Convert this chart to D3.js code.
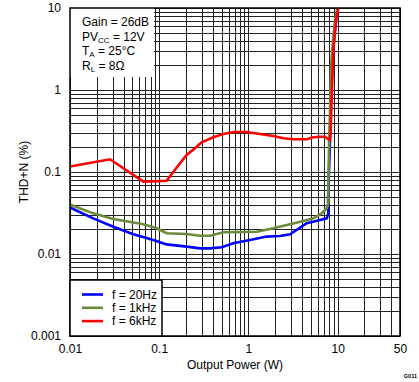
<!DOCTYPE html>
<html><head><meta charset="utf-8">
<script src="https://cdn.jsdelivr.net/npm/d3@7"></script>
<style>
body{margin:0;background:#fff;}
svg text{font-family:"Liberation Sans",Arial,sans-serif;fill:#000;}
</style></head>
<body><svg id="c" width="419" height="382"></svg>
<script>
// ---- data ----
const xTickValues = [0.01, 0.1, 1, 10, 50];
const xTickLabels = ["0.01", "0.1", "1", "10", "50"];
const yTickValues = [0.001, 0.01, 0.1, 1, 10];
const yTickLabels = ["0.001", "0.01", "0.1", "1", "10"];
const seriesNames = ["f = 20Hz", "f = 1kHz", "f = 6kHz"];
const seriesColors = ["#0000FF", "#6B8A3A", "#FF0000"];
// output power (W)
const p20Hz = [0.01,0.0182,0.0306,0.0513,0.0859,0.121,0.203,0.287,0.371,0.502,0.677,1.04,1.60,2.26,2.93,4.50,5.73,7.55,7.87,7.8,8.15,8.43,8.88,9.60,10.1];
const thd20Hz = [0.0369,0.0272,0.0215,0.0174,0.0148,0.0131,0.0123,0.0117,0.0117,0.0121,0.0135,0.0148,0.0163,0.0166,0.0174,0.0237,0.0252,0.0272,0.0313,0.0456,0.185,0.755,3.07,7.14,10];
const p1kHz = [0.01,0.0182,0.0306,0.0664,0.0938,0.121,0.203,0.287,0.371,0.523,1.24,1.90,2.93,4.13,5.34,6.63,7.55,7.87,7.87,8.01,8.22,8.43,8.81,9.35,9.93];
const thd1kHz = [0.0402,0.0313,0.0267,0.0230,0.0206,0.0179,0.0175,0.0167,0.0167,0.0184,0.0187,0.0206,0.0230,0.0252,0.0272,0.0313,0.0361,0.0415,0.0662,0.224,0.570,1.93,3.71,7.14,10];
const p6kHz = [0.01,0.0281,0.0664,0.121,0.171,0.203,0.252,0.299,0.404,0.523,0.677,0.957,1.349,1.90,2.46,3.19,4.50,5.34,6.35,7.22,7.87,8.22,8.36,8.55,8.95,9.60,10.19];
const thd6kHz = [0.117,0.143,0.0762,0.0783,0.128,0.161,0.195,0.230,0.265,0.290,0.308,0.308,0.290,0.275,0.258,0.251,0.251,0.265,0.269,0.269,0.251,0.245,0.325,0.755,3.07,7.14,10];
const annoLines = [["Gain = 26dB",""],["PV","CC"," = 12V"],["T","A"," = 25°C"],["R","L"," = 8Ω"]];

// ---- layout ----
const L=70, R=400, T=8, B=336;
const svg = d3.select("#c");
const x = d3.scaleLog().domain([0.01,50]).range([L,R]);
const y = d3.scaleLog().domain([0.001,10]).range([B,T]);

const gridX=[], gridY=[];
[0.01,0.1,1,10].forEach(d=>{for(let k=1;k<=9;k++){const v=+(d*k).toPrecision(3); if(v<=50) gridX.push(v);}});
gridX.push(50);
[0.001,0.01,0.1,1].forEach(d=>{for(let k=1;k<=9;k++) gridY.push(+(d*k).toPrecision(3));});
gridY.push(10);

const gx = svg.append("g").attr("transform",`translate(0,${B})`)
  .call(d3.axisBottom(x).tickValues(gridX).tickSize(-(B-T)).tickFormat(""));
gx.select(".domain").remove();
gx.selectAll("line").attr("stroke","#222").attr("stroke-width",1).attr("shape-rendering","crispEdges");
const gy = svg.append("g").attr("transform",`translate(${L},0)`)
  .call(d3.axisLeft(y).tickValues(gridY).tickSize(-(R-L)).tickFormat(""));
gy.select(".domain").remove();
gy.selectAll("line").attr("stroke","#222").attr("stroke-width",1).attr("shape-rendering","crispEdges");

// annotation box
svg.append("rect").attr("x",L).attr("y",T).attr("width",84).attr("height",69).attr("fill","#fff");
const at = svg.append("g");
annoLines.forEach((ln,i)=>{
  const t = at.append("text").attr("x",82).attr("y",26+i*14.6).attr("font-size",12);
  t.append("tspan").text(ln[0]);
  if(ln.length>2){
    t.append("tspan").attr("font-size",8).attr("dy",2).text(ln[1]);
    t.append("tspan").attr("dy",-2).text(ln[2]);
  }
});

// curves
const line = d3.line().x(d=>x(d[0])).y(d=>y(d[1]));
const series = [[p20Hz,thd20Hz],[p1kHz,thd1kHz],[p6kHz,thd6kHz]];
series.forEach((s,i)=>{
  const pts = s[0].map((p,j)=>[p,s[1][j]]);
  svg.append("path").datum(pts).attr("d",line).attr("fill","none")
    .attr("stroke",seriesColors[i]).attr("stroke-width",2.6).attr("stroke-linejoin","miter");
});

// frame
svg.append("rect").attr("x",L).attr("y",T).attr("width",R-L).attr("height",B-T)
  .attr("fill","none").attr("stroke","#000").attr("stroke-width",1.5);

// axes labels
const ax = svg.append("g").attr("transform",`translate(0,${B+5})`)
  .call(d3.axisBottom(x).tickValues(xTickValues).tickSize(0).tickFormat((d,i)=>xTickLabels[i]));
ax.select(".domain").remove();
ax.selectAll("text").attr("font-size",12).attr("font-family","Liberation Sans, Arial, sans-serif").attr("fill","#000");
const ay = svg.append("g").attr("transform",`translate(${L-6},0)`)
  .call(d3.axisLeft(y).tickValues(yTickValues).tickSize(0).tickFormat((d,i)=>yTickLabels[i]));
ay.select(".domain").remove();
ay.selectAll("text").attr("font-size",12).attr("font-family","Liberation Sans, Arial, sans-serif").attr("fill","#000");

svg.append("text").attr("x",(L+R)/2).attr("y",369).attr("text-anchor","middle").attr("font-size",12).text("Output Power (W)");
svg.append("text").attr("transform",`translate(28,${(T+B)/2}) rotate(-90)`).attr("text-anchor","middle").attr("font-size",12).text("THD+N (%)");
svg.append("text").attr("x",417).attr("y",378).attr("text-anchor","end").attr("font-size",5.5).attr("font-weight","bold").attr("fill","#444").text("G011");

// legend
const lg = svg.append("g");
lg.append("rect").attr("x",L).attr("y",280).attr("width",92).attr("height",B-280)
  .attr("fill","#fff").attr("stroke","#000").attr("stroke-width",1.5);
seriesNames.forEach((n,i)=>{
  const yy = 294.5+i*13.3;
  lg.append("line").attr("x1",82).attr("x2",103).attr("y1",yy).attr("y2",yy)
    .attr("stroke",seriesColors[i]).attr("stroke-width",2.6);
  lg.append("text").attr("x",112).attr("y",yy+4.3).attr("font-size",12).text(n);
});
</script></body></html>
